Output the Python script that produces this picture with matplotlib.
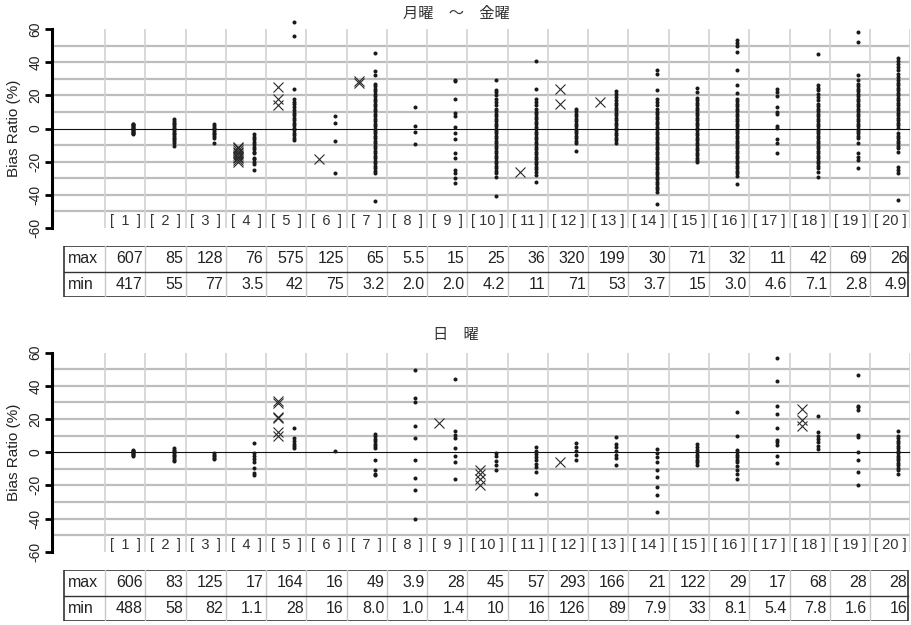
import numpy as np
import matplotlib.pyplot as plt
from matplotlib.patches import Rectangle

# route labels [1] .. [20]; single digits padded with en spaces
routes = list(range(1, 21))
route_labels = [('[\u2002%d\u2002]' if r < 10 else '[ %d ]') % r for r in routes]

# weekday (Mon-Fri) bias ratios, dots = individual days, crosses = flagged days
wk_dots = [
    [3, 2.5, 2, 1.5, 1, 0.5, 0, -0.5, -1, -1.5, -2, -2.5, -3, -3.5],
    [5.5, 4.5, 3.5, 2.5, 1.5, 0.5, -0.5, -1.5, -2.5, -3.5, -4.5, -5.5, -6.5, -7.5, -9, -10.5],
    [2.5, 1.5, 0.5, -0.5, -1.5, -2.5, -3.5, -4.5, -5.5, -9],
    [-3.5, -5, -6.5, -8, -9.5, -11, -12.5, -14, -15, -17.5, -18.5, -20.5, -21.5, -25],
    [64.5, 55.5, 24, 17.5, 16, 14.5, 13, 11, 9.5, 8, 6.5, 5, 3.5, 2, 0.5, -1, -2.5, -4, -5.5, -7],
    [7.5, 3.5, -7.5, -27],
    [45.5, 34.5, 32.5, 27, 25.5, 24, 22.5, 21, 19.5, 18, 16.5, 15, 13.5, 12, 10.5, 9, 7.5, 6,
     4.5, 3, 1.5, 0, -1.5, -3, -4.5, -6, -7.5, -9, -10.5, -12, -13.5, -15, -16.5, -18, -19.5,
     -21, -22.5, -24, -25.5, -27, -44],
    [13, 1.5, -2, -9.5],
    [29.5, 28.5, 17.5, 9.5, 7.5, 1, -3, -6.5, -15, -18, -25, -27, -30, -33],
    [29, 23.5, 22, 20, 18, 16, 14, 12, 10.5, 9, 7.5, 6, 4.5, 3, 1.5, 0, -1.5, -3, -4.5, -6,
     -7.5, -9, -10.5, -12, -13.5, -15, -16.5, -18, -19.5, -21, -22.5, -24, -25.5, -27, -29, -41],
    [40.5, 24, 18, 16, 14, 12, 10, 8.5, 7, 5.5, 4, 2.5, 1, -0.5, -2, -3.5, -5, -6.5, -8, -9.5,
     -11, -12.5, -14, -15.5, -17, -18.5, -20, -21.5, -23, -24.5, -26, -28, -32.5],
    [12, 10.5, 9, 7.5, 6, 4.5, 3, 1.5, 0, -1.5, -3, -4.5, -6, -7.5, -9, -13.5],
    [22.5, 21, 19, 17, 15.5, 14, 12.5, 11, 9.5, 8, 6.5, 5, 3.5, 2, 0.5, -1, -2.5, -4, -5.5, -7, -8.5],
    [35.5, 33, 23.5, 17.5, 16, 14, 12, 10, 8.5, 7, 5.5, 4, 2.5, 1, -0.5, -2, -3.5, -5, -6.5, -8,
     -9.5, -11, -12.5, -14, -15.5, -17, -18.5, -20, -21.5, -23, -24.5, -26, -27.5, -29, -30.5,
     -32, -33.5, -35, -36.5, -38, -45.5],
    [24.5, 22, 18.5, 17, 15.5, 14, 12.5, 11, 9.5, 8, 6.5, 5, 3.5, 2, 0.5, -1, -2.5, -4, -5.5, -7,
     -8.5, -10, -11.5, -13, -14.5, -16, -17.5, -19, -20.5],
    [53.5, 51.5, 50, 46, 35, 26.5, 21.5, 18, 16.5, 15, 13.5, 12, 10.5, 9, 7.5, 6, 4.5, 3, 1.5, 0,
     -1.5, -3, -4.5, -6, -7.5, -9, -10.5, -12, -13.5, -15, -16.5, -18, -19.5, -21, -22.5, -24,
     -25.5, -27, -28.5, -33.5],
    [24, 22, 19.5, 13, 10, 8.5, 1.5, 0.5, -6.5, -9, -14.5],
    [45, 26, 24.5, 23, 21, 19, 17, 15, 13.5, 12, 10.5, 9, 7.5, 6, 4.5, 3, 1.5, 0, -1.5, -3, -4.5,
     -6, -7.5, -9, -10.5, -12, -13.5, -15, -16.5, -18, -19.5, -21, -22.5, -24, -26, -29],
    [58, 52, 32, 29.5, 27, 25.5, 24, 22.5, 21, 19.5, 18, 16.5, 15, 13.5, 12, 10.5, 9, 7.5, 6, 4.5,
     3, 1.5, 0, -1.5, -3, -4.5, -6, -8.5, -15, -17, -19, -24],
    [42.5, 41, 39, 37, 35, 33, 31, 29, 27.5, 26, 24.5, 23, 21.5, 20, 18.5, 17, 15.5, 14, 12.5, 11,
     9.5, 8, 6.5, 5, 3.5, 2, 0.5, -3, -4.5, -6, -7.5, -9, -10.5, -12, -14, -23, -25, -27, -43],
]
wk_cross = [
    [], [], [],
    [-11, -12, -13, -14, -15, -16, -17, -18, -19, -20],
    [25, 18, 14],
    [-18.5],
    [28.5, 27.5],
    [], [], [],
    [-26.5],
    [24, 14.5],
    [16],
    [], [], [], [], [], [], [],
]

# Sunday bias ratios
su_dots = [
    [1.5, 1, 0.5, 0, -0.5, -1, -1.5, -2],
    [2.5, 1.5, 0.5, -0.5, -1.5, -2.5, -3.5, -4.5, -5.5],
    [-0.5, -1.5, -2.5, -3.5, -4],
    [5.5, -0.5, -2, -4, -6, -9.5, -12.5, -14],
    [14.5, 8.5, 7, 5, 3.5, 2.5],
    [0.5],
    [11, 9.5, 8, 6.5, 5, 4, 2.5, -4.5, -11, -13, -14],
    [49.5, 32.5, 30.5, 16, 8.5, -4.5, -15.5, -23, -40],
    [44, 12.5, 10.5, 8.5, 2.5, -2, -6, -16],
    [-0.5, -2, -5.5, -7.5, -11],
    [3, 1, -1, -3, -5, -7, -9, -12, -25],
    [5.5, 3, 1, -1.5, -5],
    [9, 5, 3, 1, -1.5, -3.5, -8],
    [2, -0.5, -3, -6, -10.5, -15, -21, -26, -36],
    [5, 3, 1.5, 0, -1.5, -3, -4.5, -6, -7.5],
    [24.5, 10, 1.5, 0, -1.5, -3, -4.5, -6, -8.5, -11, -13, -16],
    [57, 43, 28, 23, 14.5, 7.5, 6, 4.5, -2, -6.5],
    [22, 12, 10, 8, 6, 4, 2],
    [46.5, 28, 27, 25.5, 10.5, 9, 0, -4.5, -12, -19.5],
    [12.5, 10, 8.5, 7, 5.5, 4, 2.5, 1, -0.5, -2, -3.5, -5, -6.5, -8, -9.5, -11, -13],
]
su_cross = [
    [], [], [], [],
    [31, 29.5, 21.5, 20.5, 12, 10],
    [], [], [],
    [17.5],
    [-11, -13, -16, -20],
    [],
    [-6],
    [], [], [], [], [],
    [26, 19.5, 16],
    [], [],
]

# volume range per route (table under each panel)
wk_max = ['607', '85', '128', '76', '575', '125', '65', '5.5', '15', '25',
          '36', '320', '199', '30', '71', '32', '11', '42', '69', '26']
wk_min = ['417', '55', '77', '3.5', '42', '75', '3.2', '2.0', '2.0', '4.2',
          '11', '71', '53', '3.7', '15', '3.0', '4.6', '7.1', '2.8', '4.9']
su_max = ['606', '83', '125', '17', '164', '16', '49', '3.9', '28', '45',
          '57', '293', '166', '21', '122', '29', '17', '68', '28', '28']
su_min = ['488', '58', '82', '1.1', '28', '16', '8.0', '1.0', '1.4', '10',
          '16', '126', '89', '7.9', '33', '8.1', '5.4', '7.8', '1.6', '16']

W, H = 911, 625
fig = plt.figure(figsize=(W / 100, H / 100), dpi=100)
XL = (-0.82, 20.5)
TXT = '#222222'
LAT = ['Liberation Sans', 'DejaVu Sans']


def px_axes(x0, y0, x1, y1):
    return fig.add_axes([x0 / W, 1 - y1 / H, (x1 - x0) / W, (y1 - y0) / H])


def scatter_panel(ax, dots, cross):
    ax.set_xlim(*XL)
    ax.set_ylim(-60, 60)
    for y in range(-50, 51, 10):
        if y != 0:
            ax.axhline(y, color='#bdbdbd', lw=1.6, zorder=0)
    for b in np.arange(0.5, 21, 1):
        ax.axvline(b, color='#d2d2d2', lw=1.2, zorder=0)
    ax.axhline(0, color='#111111', lw=0.8, zorder=1)
    for i, r in enumerate(routes):
        if dots[i]:
            ax.plot([r + 0.2] * len(dots[i]), dots[i], 'o', ms=2.9,
                    color='#1a1a1a', mew=0, zorder=3, clip_on=False)
        if cross[i]:
            ax.plot([r - 0.2] * len(cross[i]), cross[i], 'x', ms=6.5,
                    color='#2a2a2a', mew=0.8, zorder=3, clip_on=False)
        ax.text(r, -56, route_labels[i], ha='center', va='center',
                fontsize=10.5, color='#333333', family=LAT)
    for s in ['top', 'right', 'bottom']:
        ax.spines[s].set_visible(False)
    ax.spines['left'].set_linewidth(2.2)
    ax.spines['left'].set_bounds(-60, 60)
    ax.set_xticks([])
    ax.set_yticks(range(-60, 61, 20))
    ax.set_yticklabels([str(v) for v in range(-60, 61, 20)], rotation=90,
                       va='center', fontsize=10, color=TXT, family='Liberation Sans')
    ax.tick_params(axis='y', length=5, width=2, pad=2)
    ax.set_ylabel('Bias Ratio (%)', fontsize=11, color=TXT,
                  family='Liberation Sans', labelpad=5)
    ax.patch.set_visible(False)


def range_table(ax, vmax, vmin):
    ax.set_xlim(*XL)
    ax.set_ylim(2, 0)
    ax.axis('off')
    left, right = -0.52, 20.44
    for b in np.arange(0.5, 20, 1):
        ax.plot([b, b], [0, 2], color='#c8c8c8', lw=1.0)
    ax.plot([left, right], [1, 1], color='#333333', lw=1.0)
    ax.add_patch(Rectangle((left, 0), right - left, 2, fill=False,
                           ec='#333333', lw=1.2))
    for row, (name, vals) in enumerate([('max', vmax), ('min', vmin)]):
        ax.text(left + 0.1, row + 0.5, name, ha='left', va='center',
                fontsize=11.5, color=TXT, family='Liberation Sans')
        for i, r in enumerate(routes):
            ax.text(r + 0.43, row + 0.5, vals[i], ha='right', va='center',
                    fontsize=11.5, color=TXT, family='Liberation Sans')


ax1 = px_axes(52, 29, 910.3, 228)
scatter_panel(ax1, wk_dots, wk_cross)
range_table(px_axes(52, 246, 910.3, 297), wk_max, wk_min)

ax2 = px_axes(52, 352.7, 910.3, 551.7)
scatter_panel(ax2, su_dots, su_cross)
range_table(px_axes(52, 570, 910.3, 621), su_max, su_min)

cjk = ['Noto Sans CJK JP', 'DejaVu Sans']
fig.text(456 / W, 1 - 13 / H, '月曜\u3000～\u3000金曜', ha='center', va='center',
         fontsize=11, color='#333333', family=cjk)
fig.text(456 / W, 1 - 334 / H, '日\u3000曜', ha='center', va='center',
         fontsize=11, color='#333333', family=cjk)

fig.savefig('out.png', dpi=100)
